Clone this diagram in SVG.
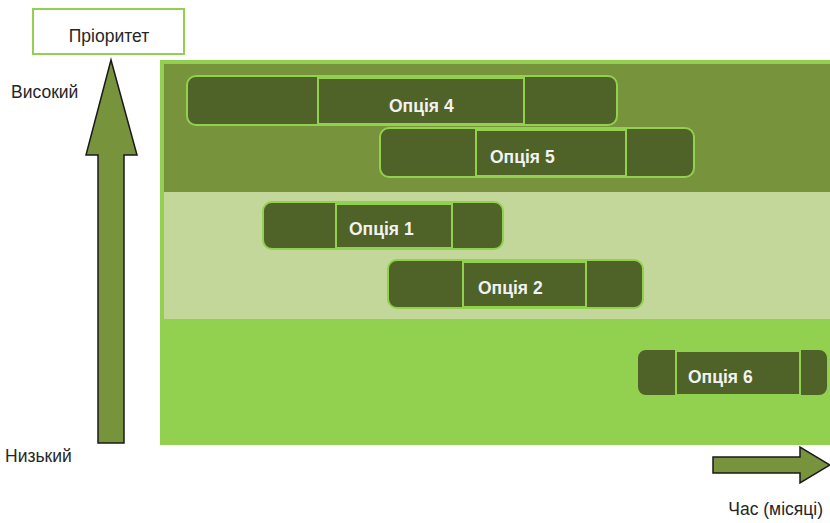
<svg xmlns="http://www.w3.org/2000/svg" width="830" height="523" viewBox="0 0 830 523">
  <style>
    .axis { fill: #77933c; stroke: #1a1a1a; stroke-width: 1.5; stroke-linejoin: miter; }
    .label { font-family: "Liberation Sans", Arial, sans-serif; font-size: 17.5px; fill: #262626; }
    .bar { fill: #4f6228; stroke: #92d050; stroke-width: 2; }
    .bar-mid { fill: #4f6228; stroke: #92d050; stroke-width: 2; }
    .bar-text { font-family: "Liberation Sans", Arial, sans-serif; font-size: 17.5px; font-weight: bold; fill: #f2f2f2; }
  </style>

  <rect width="830" height="523" fill="#ffffff"/>

  <!-- priority bands -->
  <g id="bands">
    <rect x="160" y="60" width="670" height="385" fill="#92d050"/>
    <rect x="164" y="64" width="666" height="128" fill="#77933c"/>
    <rect x="164" y="192" width="666" height="127" fill="#c4d79b"/>
    <rect x="164" y="319" width="666" height="126" fill="#92d050"/>
  </g>

  <!-- axis title -->
  <g id="priority-title">
    <rect x="33" y="9" width="151" height="45" fill="#ffffff" stroke="#92d050" stroke-width="2"/>
    <text class="label" x="109" y="42" text-anchor="middle">Пріоритет</text>
  </g>

  <g id="axis-labels">
    <text class="label" x="11" y="98">Високий</text>
    <text class="label" x="5" y="462">Низький</text>
    <text class="label" x="823" y="515" text-anchor="end" font-size="19">Час (місяці)</text>
  </g>

  <!-- axis arrows -->
  <g id="connectors">
    <polygon class="axis" points="111,60 137,155 124,155 124,443 98,443 98,155 86,155"/>
    <polygon class="axis" points="713,457 800,457 800,447 830,465 800,483 800,473 713,473"/>
  </g>

  <!-- options -->
  <g id="option-4">
    <rect class="bar" x="187" y="76" width="430" height="49" rx="9"/>
    <rect class="bar-mid" x="318" y="78" width="206" height="46"/>
    <text class="bar-text" x="389" y="112">Опція 4</text>
  </g>

  <g id="option-5">
    <rect class="bar" x="380" y="128" width="314" height="49" rx="9"/>
    <rect class="bar-mid" x="476" y="130" width="150" height="46"/>
    <text class="bar-text" x="490" y="163">Опція 5</text>
  </g>

  <g id="option-1">
    <rect class="bar" x="263" y="202" width="240" height="47" rx="9"/>
    <rect class="bar-mid" x="336" y="204" width="116" height="44"/>
    <text class="bar-text" x="349" y="235">Опція 1</text>
  </g>

  <g id="option-2">
    <rect class="bar" x="388" y="260" width="255" height="48" rx="9"/>
    <rect class="bar-mid" x="463" y="262" width="123" height="45"/>
    <text class="bar-text" x="478" y="294">Опція 2</text>
  </g>

  <g id="option-6">
    <rect class="bar" x="637" y="349" width="191" height="47" rx="9"/>
    <rect class="bar-mid" x="676" y="351" width="124" height="44"/>
    <text class="bar-text" x="688" y="383">Опція 6</text>
  </g>
</svg>
